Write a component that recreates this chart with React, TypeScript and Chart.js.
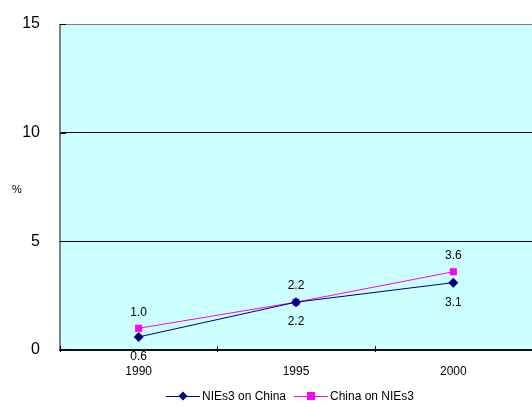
import React, { useEffect, useRef } from "react";
import { Chart, registerables } from "chart.js";

Chart.register(...registerables);

const years = ["1990", "1995", "2000"];
const niesOnChina = [0.6, 2.2, 3.1];
const chinaOnNies = [1.0, 2.2, 3.6];
const yTicks = [0, 5, 10, 15];

const NAVY = "#000080";
const MAGENTA = "#FF00FF";
const FONT = "'Liberation Sans', Arial, sans-serif";

const clearPadding = (scale: any) => {
  scale.paddingTop = 0;
  scale.paddingBottom = 0;
  scale.paddingLeft = 0;
  scale.paddingRight = 0;
};

// Plot background, inner tick marks, value labels, the "%" unit and the legend.
const decorations = {
  id: "decorations",
  beforeDraw(chart: any) {
    const { ctx, chartArea } = chart;
    ctx.save();
    ctx.fillStyle = "#CCFFFF";
    ctx.fillRect(chartArea.left, chartArea.top, chartArea.right - chartArea.left, chartArea.bottom - chartArea.top);
    ctx.restore();
  },
  afterDraw(chart: any) {
    const { ctx, chartArea, scales } = chart;
    const x = scales.x;
    const y = scales.y;
    ctx.save();

    // left axis line
    ctx.strokeStyle = "#808080";
    ctx.lineWidth = 2;
    ctx.beginPath();
    ctx.moveTo(chartArea.left, chartArea.top);
    ctx.lineTo(chartArea.left, chartArea.bottom);
    ctx.stroke();

    // y tick marks pointing into the plot
    ctx.strokeStyle = "#000";
    ctx.lineWidth = 1;
    yTicks.forEach((v) => {
      const py = Math.round(y.getPixelForValue(v)) + 0.5;
      ctx.beginPath();
      ctx.moveTo(chartArea.left, py);
      ctx.lineTo(chartArea.left + 6, py);
      ctx.stroke();
    });

    // x tick marks at category boundaries
    const half = (x.getPixelForValue(1) - x.getPixelForValue(0)) / 2;
    for (let i = 0; i <= years.length; i++) {
      const px = Math.round(x.getPixelForValue(i) - half) + 0.5;
      ctx.beginPath();
      ctx.moveTo(px, chartArea.bottom - 4);
      ctx.lineTo(px, chartArea.bottom + 2);
      ctx.stroke();
    }

    // value labels
    ctx.fillStyle = "#000";
    ctx.font = `12px ${FONT}`;
    ctx.textAlign = "center";
    ctx.textBaseline = "middle";
    chinaOnNies.forEach((v, i) => {
      ctx.fillText(v.toFixed(1), x.getPixelForValue(i), y.getPixelForValue(v) - 16);
    });
    niesOnChina.forEach((v, i) => {
      ctx.fillText(v.toFixed(1), x.getPixelForValue(i), y.getPixelForValue(v) + 20);
    });

    // unit
    ctx.font = `11px ${FONT}`;
    ctx.fillText("%", 17, (chartArea.top + chartArea.bottom) / 2 + 3);

    // legend
    const ly = 396;
    ctx.font = `12px ${FONT}`;
    ctx.textAlign = "left";
    const drawItem = (x0: number, color: string, label: string, diamond: boolean) => {
      ctx.strokeStyle = color;
      ctx.lineWidth = 1;
      ctx.beginPath();
      ctx.moveTo(x0, ly + 0.5);
      ctx.lineTo(x0 + 34, ly + 0.5);
      ctx.stroke();
      ctx.fillStyle = color;
      const cx = x0 + 17;
      if (diamond) {
        ctx.beginPath();
        ctx.moveTo(cx, ly - 4.5);
        ctx.lineTo(cx + 4.5, ly);
        ctx.lineTo(cx, ly + 4.5);
        ctx.lineTo(cx - 4.5, ly);
        ctx.closePath();
        ctx.fill();
      } else {
        ctx.fillRect(cx - 4, ly - 4, 8, 8);
      }
      ctx.fillStyle = "#000";
      ctx.fillText(label, x0 + 36, ly + 1);
    };
    drawItem(166, NAVY, "NIEs3 on China", true);
    drawItem(294, MAGENTA, "China on NIEs3", false);

    ctx.restore();
  },
};

export default function App() {
  const ref = useRef<HTMLCanvasElement | null>(null);

  useEffect(() => {
    document.body.style.margin = "0";
    const canvas = ref.current;
    if (!canvas) return;
    const chart = new Chart(canvas, {
      type: "line",
      data: {
        labels: years,
        datasets: [
          {
            label: "NIEs3 on China",
            data: niesOnChina,
            borderColor: NAVY,
            backgroundColor: NAVY,
            borderWidth: 1,
            pointStyle: "rectRot",
            pointRadius: 5,
            pointBorderWidth: 0,
          },
          {
            label: "China on NIEs3",
            data: chinaOnNies,
            borderColor: MAGENTA,
            backgroundColor: MAGENTA,
            borderWidth: 1,
            pointStyle: "rect",
            pointRadius: 5,
            pointBorderWidth: 0,
          },
        ],
      },
      options: {
        responsive: false,
        animation: false,
        devicePixelRatio: 1,
        layout: { autoPadding: false, padding: { top: 24, right: 0, bottom: 0, left: 0 } },
        plugins: {
          legend: { display: false },
          tooltip: { enabled: false },
        },
        scales: {
          x: {
            type: "category",
            offset: true,
            grid: { display: false, drawTicks: false },
            border: { display: true, color: "#111", width: 2 },
            ticks: { color: "#000", font: { family: FONT, size: 12 }, padding: 14, maxRotation: 0 },
            afterFit(scale: any) {
              scale.height = 57;
              clearPadding(scale);
            },
          },
          y: {
            min: 0,
            max: 15,
            grid: {
              color: (c: any) => (c.tick && c.tick.value === 15 ? "#808080" : "#000"),
              lineWidth: 1,
              drawTicks: false,
            },
            border: { display: false },
            ticks: {
              stepSize: 5,
              color: "#000",
              font: { family: FONT, size: 16 },
              padding: 20,
            },
            afterFit(scale: any) {
              scale.width = 60;
              clearPadding(scale);
            },
          },
        },
      },
      plugins: [decorations],
    });
    return () => chart.destroy();
  }, []);

  return <canvas ref={ref} width={532} height={407} style={{ display: "block" }} />;
}
